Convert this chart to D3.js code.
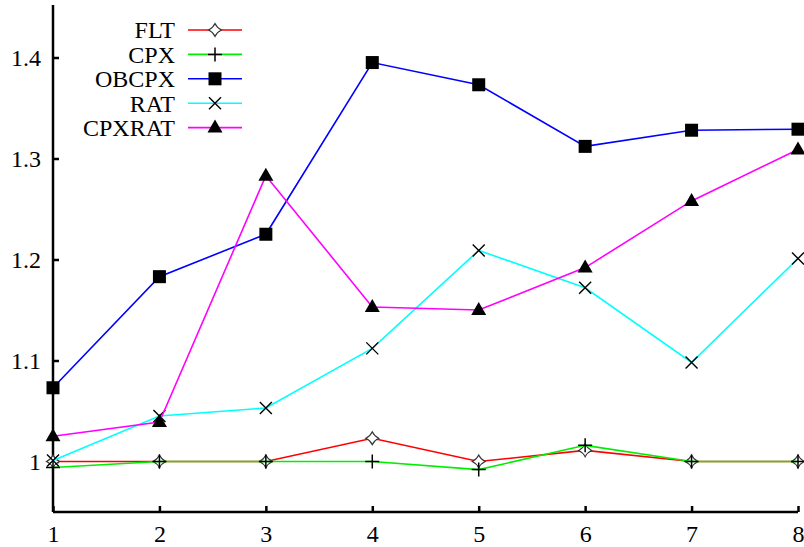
<!DOCTYPE html>
<meta charset="utf-8">
<style>
body { margin: 0; background: #fff; }
svg text { font-family: "Liberation Serif", "Times New Roman", Times, "DejaVu Serif", serif; font-size: 24px; fill: #000; }
.axis path, .axis line { stroke: #000; stroke-width: 2.5px; }
.series { fill: none; stroke-width: 1.6px; }
</style>
<body>
<script src="https://d3js.org/d3.v7.min.js"></script>
<script>

var width = 804, height = 547;

// data
var xs = [1, 2, 3, 4, 5, 6, 7, 8];
var names = ["FLT", "CPX", "OBCPX", "RAT", "CPXRAT"];
var colors = ["#ff0000", "#00ee00", "#0000ff", "#00ffff", "#ff00ff"];
var shapes = ["star", "plus", "square", "cross", "triangle"];
var flt    = [1.000, 1.000, 1.000, 1.023, 1.000, 1.011, 1.000, 1.000];
var cpx    = [0.994, 1.000, 1.000, 1.000, 0.992, 1.016, 1.000, 1.000];
var obcpx  = [1.073, 1.183, 1.225, 1.395, 1.373, 1.312, 1.328, 1.329];
var rat    = [1.001, 1.045, 1.053, 1.112, 1.209, 1.172, 1.098, 1.201];
var cpxrat = [1.025, 1.039, 1.283, 1.153, 1.150, 1.192, 1.258, 1.309];
var yTicks = [1, 1.1, 1.2, 1.3, 1.4];

var series = [flt, cpx, obcpx, rat, cpxrat];

var x = d3.scaleLinear().domain([1, 8]).range([53, 798]);
var y = d3.scaleLinear().domain([0.95, 1.45]).range([512, 7]);

var svg = d3.select("body").append("svg")
    .attr("width", width)
    .attr("height", height)
    .attr("font-family", "Liberation Serif, serif");

// marker drawing
function marker(g, shape, px, py) {
  if (shape == "square") {
    g.append("rect").attr("x", px - 6.5).attr("y", py - 6.5)
      .attr("width", 13).attr("height", 13).attr("fill", "#000");
  } else if (shape == "triangle") {
    g.append("path").attr("d", "M" + px + "," + (py - 8) + "L" + (px + 7.5) + "," + (py + 5)
      + "L" + (px - 7.5) + "," + (py + 5) + "Z").attr("fill", "#000");
  } else if (shape == "plus") {
    g.append("path").attr("d", "M" + (px - 7) + "," + py + "H" + (px + 7) + "M" + px + "," + (py - 7) + "V" + (py + 7))
      .attr("stroke", "#000").attr("stroke-width", 1.5).attr("fill", "none");
  } else if (shape == "cross") {
    g.append("path").attr("d", "M" + (px - 6) + "," + (py - 6) + "L" + (px + 6) + "," + (py + 6)
      + "M" + (px - 6) + "," + (py + 6) + "L" + (px + 6) + "," + (py - 6))
      .attr("stroke", "#000").attr("stroke-width", 1.4).attr("fill", "none");
  } else {
    // open four-point star
    var r = 6.5, q = 2;
    g.append("path").attr("d", "M" + px + "," + (py - r) + "Q" + (px + q) + "," + (py - q) + " " + (px + r) + "," + py
      + "Q" + (px + q) + "," + (py + q) + " " + px + "," + (py + r)
      + "Q" + (px - q) + "," + (py + q) + " " + (px - r) + "," + py
      + "Q" + (px - q) + "," + (py - q) + " " + px + "," + (py - r) + "Z")
      .attr("fill", "#fff").attr("stroke", "#333").attr("stroke-width", 1.1);
  }
}

// axes
var xAxis = svg.append("g").attr("class", "axis")
    .attr("transform", "translate(0," + y(0.95) + ")")
    .call(d3.axisBottom(x).tickValues(xs).tickSize(-6).tickSizeOuter(0).tickFormat(d3.format("d")));
xAxis.select(".domain").attr("d", "M" + x(1) + ",0H" + x(8));
xAxis.selectAll("text").attr("y", 29.5).attr("dy", null);

var yAxis = svg.append("g").attr("class", "axis")
    .attr("transform", "translate(" + x(1) + ",0)")
    .call(d3.axisLeft(y).tickValues(yTicks).tickSize(-6).tickSizeOuter(0).tickFormat(function(d) { return d == 1 ? "1" : d3.format(".1f")(d); }));
yAxis.select(".domain").attr("d", "M0," + y(0.95) + "V" + 5);
yAxis.selectAll("text").attr("x", -12);
svg.selectAll(".axis").attr("font-family", null).attr("font-size", null);

var line = d3.line()
    .x(function(d, i) { return x(xs[i]); })
    .y(function(d) { return y(d); });

series.forEach(function(s, k) {
  svg.append("path")
      .datum(s)
      .attr("class", "series")
      .attr("stroke", colors[k])
      .attr("d", line);
  var g = svg.append("g");
  s.forEach(function(v, i) { marker(g, shapes[k], x(xs[i]), y(v)); });
});

// legend
var legend = svg.append("g");
names.forEach(function(n, k) {
  var ly = 30 + k * 24.4;
  legend.append("text").attr("x", 175).attr("y", ly).attr("dy", "0.35em")
      .attr("text-anchor", "end").text(n);
  legend.append("line").attr("x1", 188).attr("x2", 242).attr("y1", ly).attr("y2", ly)
      .attr("stroke", colors[k]).attr("stroke-width", 1.6);
  marker(legend, shapes[k], 215, ly);
});

</script>
